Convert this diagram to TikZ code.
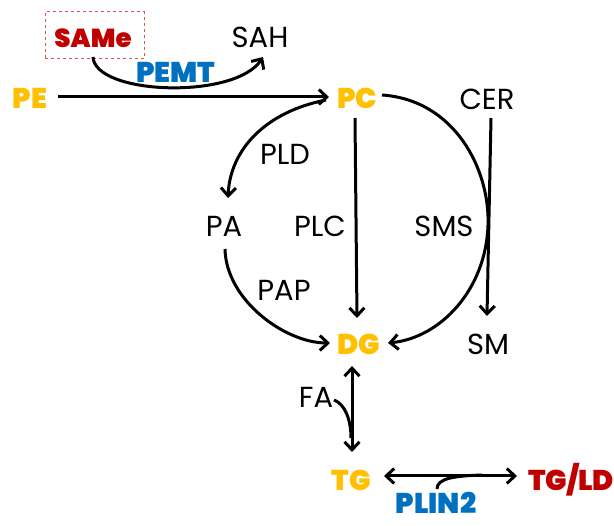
\documentclass[tikz,border=0pt]{standalone}
\usepackage{fontspec}
\setmainfont{Poppins}
\newfontfamily\heavy{Poppins}[UprightFont={* Black}]
\usetikzlibrary{arrows.meta}
\definecolor{cyel}{HTML}{FFC000}
\definecolor{cred}{HTML}{C00000}
\definecolor{cblue}{HTML}{0070C0}
\definecolor{dashred}{HTML}{D9534F}
\tikzset{
  lbl/.style={font=\fontsize{29}{32}\selectfont, text=black, inner sep=1pt},
  hv/.style={font=\heavy\fontsize{28.5}{32}\selectfont, inner sep=1pt},
  conn/.style={line width=3pt, -{Straight Barb[length=8pt,width=15pt,line width=3pt]}},
  conn2/.style={line width=3pt, {Straight Barb[length=8pt,width=15pt,line width=3pt]}-{Straight Barb[length=8pt,width=15pt,line width=3pt]}},
  plain/.style={line width=3pt}
}
\begin{document}
\begin{tikzpicture}[x=1pt,y=-1pt]
\useasboundingbox (0,0) rectangle (614,526);
% nodes
\node[draw=dashred, dashed, line width=1pt, minimum width=99pt, minimum height=47pt] (samebox) at (94.5,35.5) {};
\node[hv, text=cred, font=\heavy\fontsize{26}{30}\selectfont] (same) at (93,38) {SAMe};
\node[lbl] (sah) at (260,37) {SAH};
\node[hv, text=cblue] (pemt) at (176,72) {PEMT};
\node[hv, text=cyel] (pe) at (30,98) {PE};
\node[hv, text=cyel] (pc) at (357,98) {PC};
\node[lbl] (cer) at (487,99) {CER};
\node[lbl] (pld) at (285,154) {PLD};
\node[lbl] (pa) at (224,226) {PA};
\node[lbl] (plc) at (320,226) {PLC};
\node[lbl] (sms) at (444,226) {SMS};
\node[lbl] (pap) at (284,290) {PAP};
\node[hv, text=cyel] (dg) at (359,344) {DG};
\node[lbl] (sm) at (488,344) {SM};
\node[lbl] (fa) at (316,397) {FA};
\node[hv, text=cyel] (tg) at (351,480) {TG};
\node[hv, text=cred] (tgld) at (571,480) {TG/LD};
\node[hv, text=cblue, inner sep=0pt] (plin) at (436,503) {PLIN2};
% end-point coordinates
\coordinate (sameout) at (93,57);
\coordinate (sahin) at (263,57);
\coordinate (peout) at (58,97);
\coordinate (pcin) at (329,97);
\coordinate (pcpld) at (326,100);
\coordinate (pain) at (228,198);
\coordinate (paout) at (225,249);
\coordinate (dgwest) at (330,343);
\coordinate (pcsouth) at (355,118);
\coordinate (dgnorth) at (357,318);
\coordinate (pceast) at (382,95);
\coordinate (dgeast) at (388,343);
\coordinate (cersouth) at (491,118);
\coordinate (smnorth) at (487,316);
\coordinate (dgsouth) at (352,366);
\coordinate (tgnorth) at (352,452);
\coordinate (faend) at (351,438);
\coordinate (faout) at (334,400);
\coordinate (tgeast) at (384,476);
\coordinate (tgldwest) at (517,476);
\coordinate (plinout) at (437,489);
\coordinate (plinend) at (482,475);
% connectors
\draw[conn] (sameout) .. controls (95,95) and (235,100) .. (sahin);
\draw[conn] (peout) -- (pcin);
\draw[conn] (pcpld) .. controls (265,112) and (230,150) .. (pain);
\draw[conn] (pcsouth) -- (dgnorth);
\draw[conn] (pceast) .. controls (455,100) and (490,170) .. (488,225) .. controls (486,290) and (440,338) .. (dgeast);
\draw[conn] (cersouth) -- (smnorth);
\draw[conn] (paout) .. controls (226,300) and (285,343) .. (dgwest);
\draw[conn2] (dgsouth) -- (tgnorth);
\draw[plain] (faout) .. controls (345,404) and (351,420) .. (faend);
\draw[conn2] (tgeast) -- (tgldwest);
\draw[plain] (plinout) .. controls (437,478) and (455,476) .. (plinend);
\end{tikzpicture}
\end{document}
